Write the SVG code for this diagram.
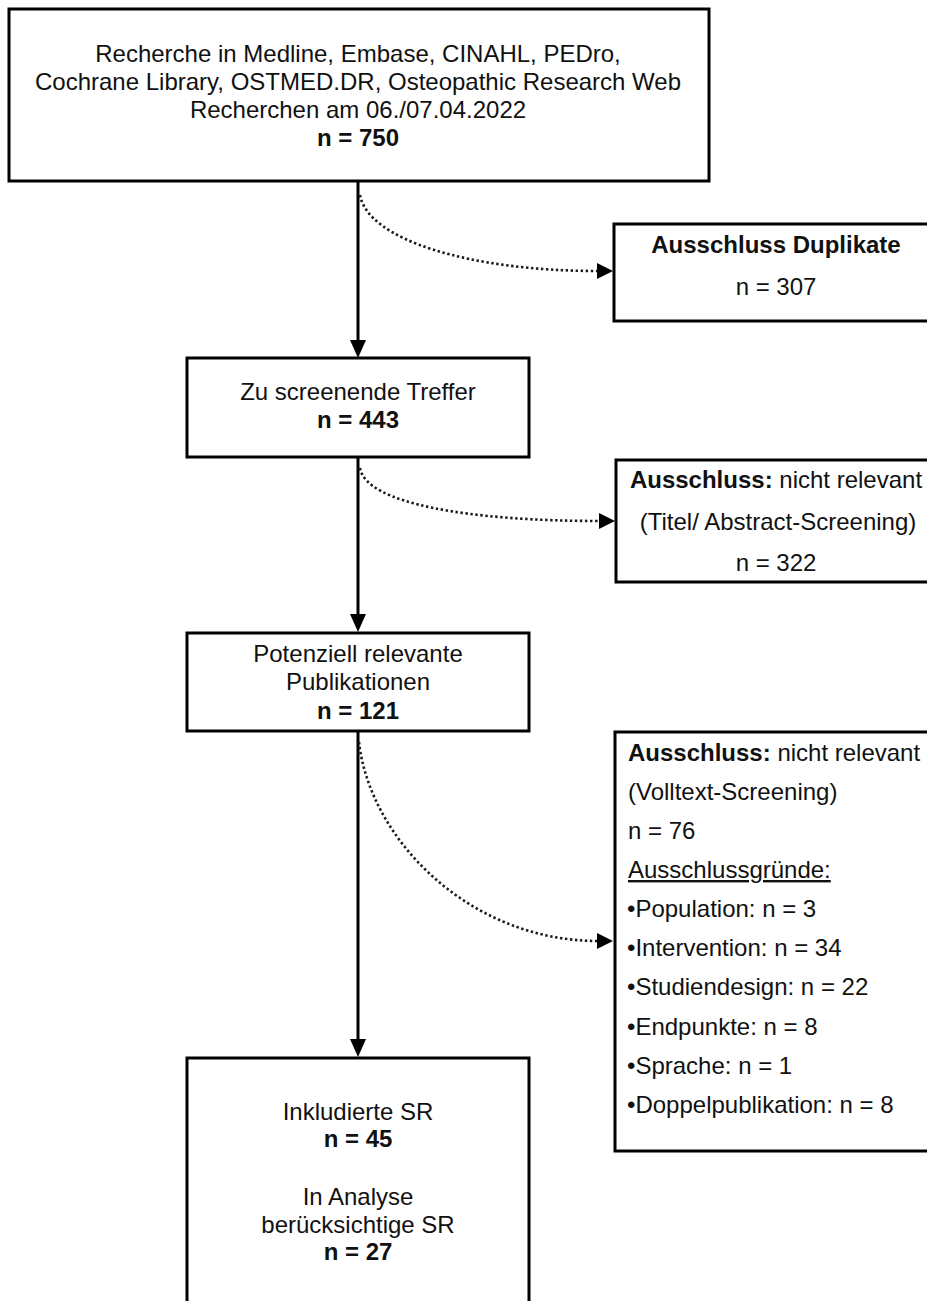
<svg xmlns="http://www.w3.org/2000/svg" width="927" height="1301" viewBox="0 0 927 1301">
<defs>
<style>
.box{fill:#fff;stroke:#000;stroke-width:3}
text{font-family:"Liberation Sans",Arial,sans-serif;font-size:24px;fill:#111}
.c{text-anchor:middle}
.b{font-weight:bold}
.solid{fill:none;stroke:#000;stroke-width:3}
.dot{fill:none;stroke:#1a1a1a;stroke-width:2.6;stroke-dasharray:2.4 2.6}
</style>
<marker id="ah" markerUnits="userSpaceOnUse" markerWidth="20" markerHeight="18" refX="1" refY="8" orient="auto">
<path d="M0,0 L18,8 L0,16 z" fill="#000"/>
</marker>
<marker id="ahd" markerUnits="userSpaceOnUse" markerWidth="18" markerHeight="17" refX="1" refY="8" orient="auto">
<path d="M0,0 L16,8 L0,16 z" fill="#000"/>
</marker>
</defs>
<rect width="927" height="1301" fill="#fff"/>

<g id="connectors">
<line class="solid" x1="358" y1="181" x2="358" y2="341" marker-end="url(#ah)"/>
<line class="solid" x1="358" y1="457" x2="358" y2="615" marker-end="url(#ah)"/>
<line class="solid" x1="358" y1="731" x2="358" y2="1040" marker-end="url(#ah)"/>
<path class="dot" d="M360,195 C368,240 470,271 598,271" marker-end="url(#ahd)"/>
<path class="dot" d="M360,468 C366,504 470,521 600,521" marker-end="url(#ahd)"/>
<path class="dot" d="M359,742 C370,840 470,941 598,941" marker-end="url(#ahd)"/>
</g>

<g id="node-search">
<rect class="box" x="9" y="9" width="700" height="172"/>
<text class="c" x="358" y="62">Recherche in Medline, Embase, CINAHL, PEDro,</text>
<text class="c" x="358" y="90">Cochrane Library, OSTMED.DR, Osteopathic Research Web</text>
<text class="c" x="358" y="118">Recherchen am 06./07.04.2022</text>
<text class="c b" x="358" y="146">n = 750</text>
</g>

<g id="node-duplicates">
<rect class="box" x="614" y="224" width="330" height="97"/>
<text class="c b" x="776" y="253">Ausschluss Duplikate</text>
<text class="c" x="776" y="295">n = 307</text>
</g>

<g id="node-screening">
<rect class="box" x="187" y="358" width="342" height="99"/>
<text class="c" x="358" y="400">Zu screenende Treffer</text>
<text class="c b" x="358" y="428">n = 443</text>
</g>

<g id="node-excl-title">
<rect class="box" x="616" y="460" width="330" height="122"/>
<text class="c" x="776" y="488"><tspan class="b">Ausschluss:</tspan> nicht relevant</text>
<text class="c" x="778" y="530">(Titel/ Abstract-Screening)</text>
<text class="c" x="776" y="571">n = 322</text>
</g>

<g id="node-potential">
<rect class="box" x="187" y="633" width="342" height="98"/>
<text class="c" x="358" y="662">Potenziell relevante</text>
<text class="c" x="358" y="690">Publikationen</text>
<text class="c b" x="358" y="719">n = 121</text>
</g>

<g id="node-excl-fulltext">
<rect class="box" x="615" y="732" width="330" height="419"/>
<text x="628" y="761"><tspan class="b">Ausschluss:</tspan> nicht relevant</text>
<text x="628" y="800">(Volltext-Screening)</text>
<text x="628" y="839">n = 76</text>
<text x="628" y="878" text-decoration="underline">Ausschlussgründe:</text>
<text x="627" y="917">•Population: n = 3</text>
<text x="627" y="956">•Intervention: n = 34</text>
<text x="627" y="995">•Studiendesign: n = 22</text>
<text x="627" y="1035">•Endpunkte: n = 8</text>
<text x="627" y="1074">•Sprache: n = 1</text>
<text x="627" y="1113">•Doppelpublikation: n = 8</text>
</g>

<g id="node-included">
<rect class="box" x="187" y="1058" width="342" height="260"/>
<text class="c" x="358" y="1120">Inkludierte SR</text>
<text class="c b" x="358" y="1147">n = 45</text>
<text class="c" x="358" y="1205">In Analyse</text>
<text class="c" x="358" y="1233">berücksichtige SR</text>
<text class="c b" x="358" y="1260">n = 27</text>
</g>
</svg>
